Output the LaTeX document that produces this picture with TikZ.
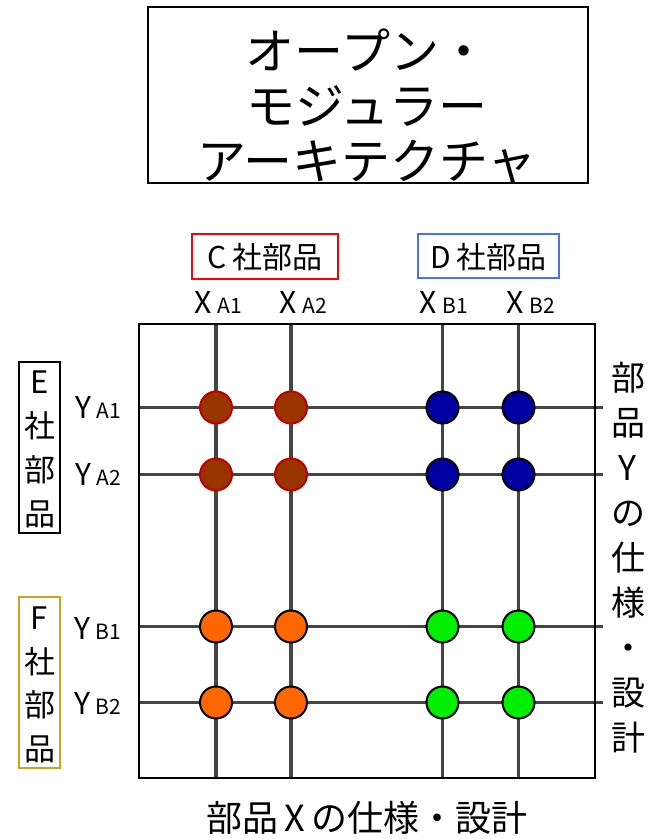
\documentclass[tikz,border=0pt]{standalone}
\usepackage{fontspec}
\setmainfont{Noto Sans CJK JP}
\definecolor{gridgray}{HTML}{454545}
\definecolor{brownfill}{HTML}{993300}
\definecolor{brownline}{HTML}{C00000}
\definecolor{bluefill}{HTML}{0000A0}
\definecolor{orangefill}{HTML}{FF6600}
\definecolor{greenfill}{HTML}{00EE00}
\definecolor{cred}{HTML}{FF0000}
\definecolor{dblue}{HTML}{4472FF}
\definecolor{fgold}{HTML}{D4A017}
\newcommand{\axbig}[1]{{\fontsize{30}{30}\selectfont #1}}
\newcommand{\axsub}[1]{{\fontsize{21}{21}\selectfont #1}}
\begin{document}
\begin{tikzpicture}[x=1pt,y=-1pt,
  gridline/.style={line width=3.2pt, draw=gridgray},
  frameline/.style={line width=2.5pt, draw=black},
  dot/.style={circle, minimum width=31pt, minimum height=32pt, inner sep=0pt, line width=2pt},
  browndot/.style={dot, fill=brownfill, draw=brownline},
  bluedot/.style={dot, fill=bluefill, draw=black},
  orangedot/.style={dot, fill=orangefill, draw=black},
  greendot/.style={dot, fill=greenfill, draw=black},
  labelbox/.style={draw, line width=2pt, inner sep=0pt},
  axlabel/.style={inner sep=0pt, anchor=center}]
\useasboundingbox (0,0) rectangle (651,839);

% title
\node[draw=black, line width=2.5pt, minimum width=440pt, minimum height=176pt, inner sep=0pt] (title) at (368,95) {};
\node[align=center, inner sep=0pt, font=\fontsize{49}{55}\selectfont] (titletext) at (367,106) {オープン・\\モジュラー\\アーキテクチャ};

% company boxes
\node[labelbox, draw=cred, minimum width=146pt, minimum height=45pt] (cbox) at (265,256.5) {};
\node[inner sep=0pt, font=\fontsize{30}{30}\selectfont] (ctext) at (265,257) {C\hspace{6pt}社部品};
\node[labelbox, draw=dblue, minimum width=141pt, minimum height=44pt] (dbox) at (488.5,256) {};
\node[inner sep=0pt, font=\fontsize{30}{30}\selectfont] (dtext) at (488.5,257) {D\hspace{6pt}社部品};

\node[labelbox, draw=black, minimum width=41pt, minimum height=171pt] (ebox) at (39.5,447.5) {};
\node[align=center, inner sep=0pt, font=\fontsize{31}{44}\selectfont] (etext) at (39.5,449) {E\\社\\部\\品};
\node[labelbox, draw=fgold, minimum width=41pt, minimum height=171pt] (fbox) at (39.5,682.5) {};
\node[align=center, inner sep=0pt, font=\fontsize{31}{43.5}\selectfont] (ftext) at (39.5,685) {F\\社\\部\\品};

% X labels
\node[axlabel] (lxa1) at (218,302) {\axbig{X}\hspace{6pt}\axsub{A1}};
\node[axlabel] (lxa2) at (303,302) {\axbig{X}\hspace{6pt}\axsub{A2}};
\node[axlabel] (lxb1) at (444,302) {\axbig{X}\hspace{6pt}\axsub{B1}};
\node[axlabel] (lxb2) at (531,302) {\axbig{X}\hspace{6pt}\axsub{B2}};

% Y labels
\node[axlabel] (lya1) at (98,407) {\axbig{Y}\hspace{5pt}\axsub{A1}};
\node[axlabel] (lya2) at (98,474) {\axbig{Y}\hspace{5pt}\axsub{A2}};
\node[axlabel] (lyb1) at (98,628) {\axbig{Y}\hspace{5pt}\axsub{B1}};
\node[axlabel] (lyb2) at (98,703) {\axbig{Y}\hspace{5pt}\axsub{B2}};

% axis titles
\node[align=center, inner sep=0pt, font=\fontsize{34}{45}\selectfont] (ytitle) at (628,558) {部\\品\\Y\\の\\仕\\様\\・\\設\\計};
\node[inner sep=0pt, font=\fontsize{36}{36}\selectfont] (xtitle) at (367,818) {部品\hspace{6pt}X\hspace{6pt}の仕様・設計};

% grid coordinates
\coordinate (xa1t) at (216,324); \coordinate (xa1b) at (216,778);
\coordinate (xa2t) at (291,324); \coordinate (xa2b) at (291,778);
\coordinate (xb1t) at (442.5,324); \coordinate (xb1b) at (442.5,778);
\coordinate (xb2t) at (518.5,324); \coordinate (xb2b) at (518.5,778);
\coordinate (ya1l) at (139,407.5); \coordinate (ya1r) at (603,407.5);
\coordinate (ya2l) at (139,474.5); \coordinate (ya2r) at (603,474.5);
\coordinate (yb1l) at (139,626.5); \coordinate (yb1r) at (603,626.5);
\coordinate (yb2l) at (139,702.5); \coordinate (yb2r) at (603,702.5);

\draw[gridline] (xa1t) -- (xa1b);
\draw[gridline] (xa2t) -- (xa2b);
\draw[gridline] (xb1t) -- (xb1b);
\draw[gridline] (xb2t) -- (xb2b);
\draw[gridline] (ya1l) -- (ya1r);
\draw[gridline] (ya2l) -- (ya2r);
\draw[gridline] (yb1l) -- (yb1r);
\draw[gridline] (yb2l) -- (yb2r);

% frame
\coordinate (ftl) at (139,324); \coordinate (ftr) at (595,324);
\coordinate (fbr) at (595,778); \coordinate (fbl) at (139,778);
\draw[frameline] (ftl) -- (ftr) -- (fbr) -- (fbl) -- cycle;

% dots
\node[browndot] (a11) at (216,407.5) {};
\node[browndot] (a21) at (291,407.5) {};
\node[browndot] (a12) at (216,474.5) {};
\node[browndot] (a22) at (291,474.5) {};
\node[bluedot] (b11) at (442.5,407.5) {};
\node[bluedot] (b21) at (518.5,407.5) {};
\node[bluedot] (b12) at (442.5,474.5) {};
\node[bluedot] (b22) at (518.5,474.5) {};
\node[orangedot] (c11) at (216,626.5) {};
\node[orangedot] (c21) at (291,626.5) {};
\node[orangedot] (c12) at (216,702.5) {};
\node[orangedot] (c22) at (291,702.5) {};
\node[greendot] (d11) at (442.5,626.5) {};
\node[greendot] (d21) at (518.5,626.5) {};
\node[greendot] (d12) at (442.5,702.5) {};
\node[greendot] (d22) at (518.5,702.5) {};
\end{tikzpicture}
\end{document}
